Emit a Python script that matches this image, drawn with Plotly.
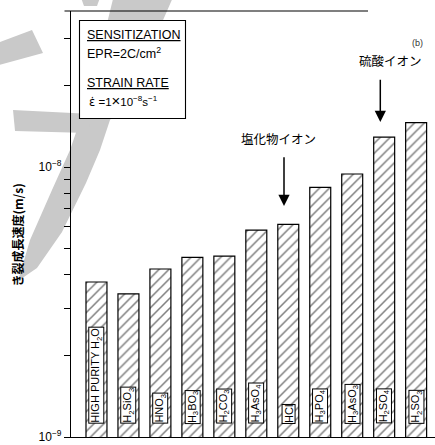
import plotly.graph_objects as go

# Test environments, left to right
solutions = [
    "HIGH PURITY H<sub>2</sub>O",
    "H<sub>2</sub>SiO<sub>3</sub>",
    "HNO<sub>3</sub>",
    "H<sub>3</sub>BO<sub>3</sub>",
    "H<sub>2</sub>CO<sub>3</sub>",
    "H<sub>3</sub>AsO<sub>4</sub>",
    "HCl",
    "H<sub>3</sub>PO<sub>4</sub>",
    "H<sub>3</sub>AsO<sub>3</sub>",
    "H<sub>2</sub>SO<sub>4</sub>",
    "H<sub>2</sub>SO<sub>3</sub>",
]

# Crack growth rate (m/s)
growth_rate = [3.75e-9, 3.39e-9, 4.19e-9, 4.63e-9, 4.68e-9, 5.84e-9,
               6.13e-9, 8.40e-9, 9.42e-9, 1.29e-8, 1.46e-8]

# Log-axis ticks: decades labelled, intermediate ticks unlabelled
ytick_vals = [1e-9, 2e-9, 3e-9, 4e-9, 5e-9, 6e-9, 7e-9, 8e-9, 9e-9,
              1e-8, 2e-8, 3e-8]
ytick_text = ["10<sup>−9</sup>", "", "", "", "", "", "", "", "",
              "10<sup>−8</sup>", "", ""]

W, H = 435, 445
ML, MR, MT, MB = 71, 0, 11, 8
PW, PH = W - ML - MR, H - MT - MB

SANS = "Liberation Sans, Arial, Helvetica, sans-serif"
JP = "Noto Sans CJK JP, sans-serif"


def px(x, y):
    """Pixel position on the page -> paper coordinates."""
    return (x - ML) / PW, (H - MB - y) / PH


def path_from(points):
    pts = [px(x, y) for x, y in points]
    return "M " + " L ".join(f"{a:.4f},{b:.4f}" for a, b in pts) + " Z"


fig = go.Figure()

fig.add_trace(go.Bar(
    x=list(range(len(solutions))),
    y=growth_rate,
    width=0.656,
    marker=dict(
        color="white",
        line=dict(color="black", width=1.2),
        pattern=dict(shape="/", fgcolor="black", bgcolor="white",
                     size=7, solidity=0.22),
    ),
    hoverinfo="skip",
))

# Grey brush-stroke watermark behind the axes
stroke_color = "#c9c9c9"
strokes = [
    [(114, -5), (174, -5), (150, 50), (128, 95), (110, 120), (100, 150),
     (86, 183), (62, 232), (37, 268), (18, 281), (30, 240), (52, 190),
     (70, 150), (82, 115), (98, 60)],
    [(13, 110), (92, 114), (88, 133), (15, 131)],
    [(-5, 44), (32, 30), (43, 53), (-5, 66)],
    [(80, -5), (101, -5), (97, 6), (84, 6)],
]
for s in strokes:
    fig.add_shape(type="path", path=path_from(s), xref="paper", yref="paper",
                  fillcolor=stroke_color, line=dict(width=0), layer="below")

# Top frame line
x0, _ = px(64.5, 11)
x1, _ = px(368, 11)
fig.add_shape(type="line", xref="paper", yref="paper", x0=x0, x1=x1, y0=1, y1=1,
              line=dict(color="black", width=1.2), layer="above")

# Condition box
bx0, by0 = px(79.5, 118.5)
bx1, by1 = px(185.5, 20.5)
fig.add_shape(type="rect", xref="paper", yref="paper", x0=bx0, x1=bx1, y0=by0, y1=by1,
              fillcolor="white", line=dict(color="black", width=1.1), layer="above")

box_lines = [
    ("<u>SENSITIZATION</u>", 85, 35, 12.5),
    ("EPR=2C/cm<sup>2</sup>", 85, 52.5, 12.5),
    ("<u>STRAIN RATE</u>", 85, 83, 12.5),
    ("<span style='font-family:DejaVu Sans'>ε̇</span> =1<span style='font-size:15px'>×</span>10<sup>−8</sup>s<sup>−1</sup>",
     87, 100.5, 11.5),
]
for txt, lx, ly, fs in box_lines:
    ax_, ay_ = px(lx, ly)
    fig.add_annotation(x=ax_, y=ay_, xref="paper", yref="paper", text=txt,
                       showarrow=False, xanchor="left", yanchor="middle",
                       font=dict(family=SANS, size=fs, color="black"))

# Solution names inside the bars, boxed, reading bottom to top
label_y = (H - MB - 423.7) / PH
for i, name in enumerate(solutions):
    fig.add_annotation(x=i, y=label_y, xref="x", yref="paper",
                       text=name, textangle=-90, showarrow=False,
                       xanchor="center", yanchor="bottom",
                       font=dict(family=SANS, size=11, color="black"),
                       bgcolor="white", bordercolor="black", borderwidth=1,
                       borderpad=0)

# Ion callouts
callouts = [
    ("塩化物イオン", 278, 138, 284, 206, 155.7),
    ("硫酸イオン", 390.5, 60.7, 380.3, 122, 78.3),
]
for txt, tx, ty, arx, tip_y, tail_y in callouts:
    px_t, py_t = px(tx, ty)
    fig.add_annotation(x=px_t, y=py_t, xref="paper", yref="paper", text=txt,
                       showarrow=False, xanchor="center", yanchor="middle",
                       font=dict(family=JP, size=12.5, color="black"))
    px_a, py_a = px(arx, tip_y)
    fig.add_annotation(x=px_a, y=py_a, xref="paper", yref="paper", text="",
                       showarrow=True, ax=0, ay=-(tip_y - tail_y),
                       arrowhead=2, arrowsize=1.5, arrowwidth=1.5,
                       arrowcolor="black", standoff=0)

# Panel tag at top right
tx, ty = px(425, 36)
fig.add_annotation(x=tx, y=ty, xref="paper", yref="paper", text="(b)",
                   showarrow=False, font=dict(family=SANS, size=9, color="#333333"))

# Y-axis title
tx, ty = px(17, 235.5)
fig.add_annotation(x=tx, y=ty, xref="paper", yref="paper", text="<b>き裂成長速度(m/s)</b>",
                   textangle=-90, showarrow=False, xanchor="center", yanchor="middle",
                   font=dict(family=JP, size=12, color="black"))

fig.update_layout(
    width=W, height=H,
    margin=dict(l=ML, r=MR, t=MT, b=MB),
    paper_bgcolor="white", plot_bgcolor="white",
    showlegend=False,
    xaxis=dict(range=[-0.797, 10.59], showline=True, linecolor="black", linewidth=1.2,
               showticklabels=False, ticks="", showgrid=False, zeroline=False,
               fixedrange=True),
    yaxis=dict(type="log", range=[-9, -9 + PH / 270.0], showline=True,
               linecolor="black", linewidth=1.2,
               tickmode="array", tickvals=ytick_vals, ticktext=ytick_text,
               ticks="outside", ticklen=6, tickwidth=1, tickcolor="black",
               showgrid=False, zeroline=False,
               tickfont=dict(family=SANS, size=12, color="black")),
)

fig.write_html("out.html")
